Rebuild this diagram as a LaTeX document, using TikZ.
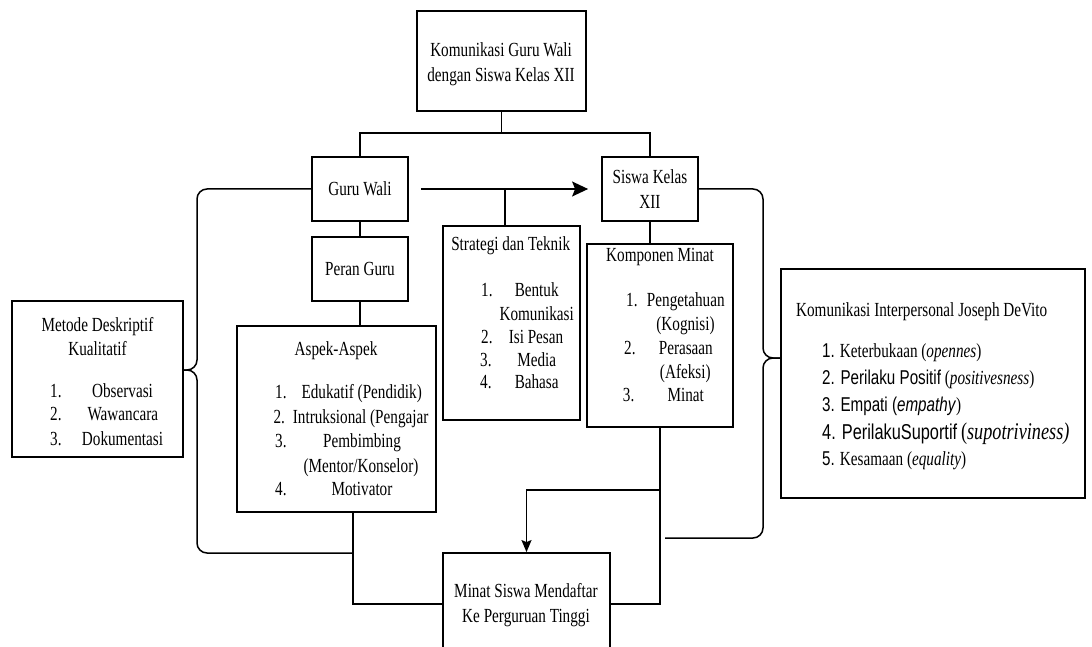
\documentclass[tikz,border=0pt]{standalone}
\usepackage{fontspec}
\setmainfont{Liberation Serif}[FakeStretch=0.76]
\newfontfamily\arialn{Liberation Sans}[FakeStretch=0.76]
\usetikzlibrary{arrows.meta}
\begin{document}
\begin{tikzpicture}[x=1pt,y=-1pt,
  font=\fontsize{20}{24.5}\selectfont,
  box/.style={draw, line width=1.8pt, inner sep=0pt},
  ln/.style={line width=1.5pt},
  t/.style={inner sep=0pt, anchor=base},
  tl/.style={inner sep=0pt, anchor=base west}]
\useasboundingbox (0,0) rectangle (1092,647);
\fill[white] (0,0) rectangle (1092,647);
\clip (0,0) rectangle (1092,647);

% boxes
\node[box, minimum width=169pt, minimum height=100pt] (top) at (501.5,61) {};
\node[t] (topa) at (501,57) {Komunikasi Guru Wali};
\node[t] (topb) at (501,81.5) {dengan Siswa Kelas XII};

\node[box, minimum width=96pt, minimum height=64pt] (guru) at (360,189) {Guru Wali};
\node[box, minimum width=96pt, minimum height=64pt] (peran) at (360,269) {Peran Guru};
\node[box, minimum width=96pt, minimum height=64pt, align=center] (siswa) at (650,189) {Siswa Kelas\\XII};

% Strategi
\node[box, minimum width=137pt, minimum height=194pt] (strat) at (511.5,323) {};
\node[t] (s0) at (510.7,250) {Strategi dan Teknik};
\node[tl] (s1n) at (481,296.7) {1.};
\node[t] (s1a) at (536.7,296.7) {Bentuk};
\node[t] (s1b) at (536.7,320) {Komunikasi};
\node[tl] (s2n) at (481,343.3) {2.};
\node[t] (s2) at (536,343.3) {Isi Pesan};
\node[tl] (s3n) at (480,366) {3.};
\node[t] (s3) at (536.7,366) {Media};
\node[tl] (s4n) at (480,388.3) {4.};
\node[t] (s4) at (536.7,388.3) {Bahasa};

% Aspek
\node[box, minimum width=199pt, minimum height=186pt] (aspek) at (336.5,419) {};
\node[t] (a0) at (336,355) {Aspek-Aspek};
\node[tl] (a1n) at (275,398) {1.};
\node[t] (a1) at (361.7,398) {Edukatif (Pendidik)};
\node[tl] (a2n) at (273.3,423) {2.};
\node[tl] (a2) at (292.7,423) {Intruksional (Pengajar};
\node[tl] (a3n) at (275,447) {3.};
\node[t] (a3) at (362,447) {Pembimbing};
\node[t] (a3b) at (361,472) {(Mentor/Konselor)};
\node[tl] (a4n) at (275,495) {4.};
\node[t] (a4) at (362,495) {Motivator};

% Komponen
\node[box, minimum width=146pt, minimum height=183pt] (komp) at (660,335.5) {};
\node[t] (k0) at (660,261.7) {Komponen Minat};
\node[tl] (k1n) at (626,306.7) {1.};
\node[t] (k1) at (685.8,306.7) {Pengetahuan};
\node[t] (k1b) at (685.5,330) {(Kognisi)};
\node[tl] (k2n) at (624,354) {2.};
\node[t] (k2) at (685.8,354) {Perasaan};
\node[t] (k2b) at (685.3,378) {(Afeksi)};
\node[tl] (k3n) at (622.7,401.7) {3.};
\node[t] (k3) at (685.7,401.7) {Minat};

% Metode
\node[box, minimum width=171pt, minimum height=156pt] (metode) at (97.5,379) {};
\node[t] (m0) at (97.5,331.7) {Metode Deskriptif};
\node[t] (m0b) at (97.5,355) {Kualitatif};
\node[tl] (m1n) at (50,397) {1.};
\node[t] (m1) at (122.5,397) {Observasi};
\node[tl] (m2n) at (50,420) {2.};
\node[t] (m2) at (122.8,420) {Wawancara};
\node[tl] (m3n) at (50,445) {3.};
\node[t] (m3) at (122.5,445) {Dokumentasi};

% Komunikasi Interpersonal
\node[box, minimum width=304pt, minimum height=229pt] (komint) at (933,383.5) {};
\node[t] (c0) at (921.7,316.7) {Komunikasi Interpersonal Joseph DeVito};
\node[tl] (c1) at (822,357) {{\arialn 1.} Keterbukaan (\textit{opennes})};
\node[tl] (c2) at (822,384) {{\arialn 2. Perilaku Positif} (\textit{positivesness})};
\node[tl] (c3) at (822,411) {{\arialn 3. Empati (\textit{empathy}})};
\node[tl] (c4) at (822,439) {{\arialn\fontsize{21.5}{24}\selectfont 4. PerilakuSuportif} {\fontsize{24}{26}\selectfont(\textit{supotriviness)}}};
\node[tl] (c5) at (822,465) {{\arialn 5.} Kesamaan (\textit{equality})};

% Minat
\node[box, minimum width=167pt, minimum height=102pt] (minat) at (526.5,604) {};
\node[t] (n1) at (526,597) {Minat Siswa Mendaftar};
\node[t] (n2) at (526,622) {Ke Perguruan Tinggi};

% connectors
\coordinate (hub) at (501.5,133);
\draw[ln] (top.south) -- (hub);
\draw[ln] (hub) -| (guru.north);
\draw[ln] (hub) -| (siswa.north);
\draw[ln, -{Stealth[length=16pt,width=15pt,inset=3pt]}, shorten <=12pt, shorten >=13pt] (guru.east) -- (siswa.west);
\coordinate (sj) at (505,189);
\draw[ln] (sj) -- (sj |- strat.north);
\draw[ln] (guru.south) -- (peran.north);
\draw[ln] (peran.south) -- (peran.south |- aspek.north);
\draw[ln] (siswa.south) -- (siswa.south |- komp.north);
\draw[ln] ([xshift=16.5pt]aspek.south) |- (minat.west);
\draw[ln] (komp.south) |- (minat.east);
\coordinate (kb) at (660,490);
\draw[ln, -{Stealth[length=12pt,width=10pt,inset=2pt]}] (kb) -| (minat.north);

% left brace
\coordinate (lb) at (197,370);
\coordinate (lbe) at (353,553);
\draw[ln, rounded corners=10pt] (guru.west) -| (lb) -- (metode.east |- lb);
\draw[ln, rounded corners=10pt] (metode.east |- lb) -- (lb) |- (lbe);

% right brace
\coordinate (rb) at (763,358);
\coordinate (rbe) at (665,538);
\draw[ln, rounded corners=10pt] (siswa.east) -| (rb) -- (komint.west |- rb);
\draw[ln, rounded corners=10pt] (komint.west |- rb) -- (rb) |- (rbe);
\end{tikzpicture}
\end{document}
